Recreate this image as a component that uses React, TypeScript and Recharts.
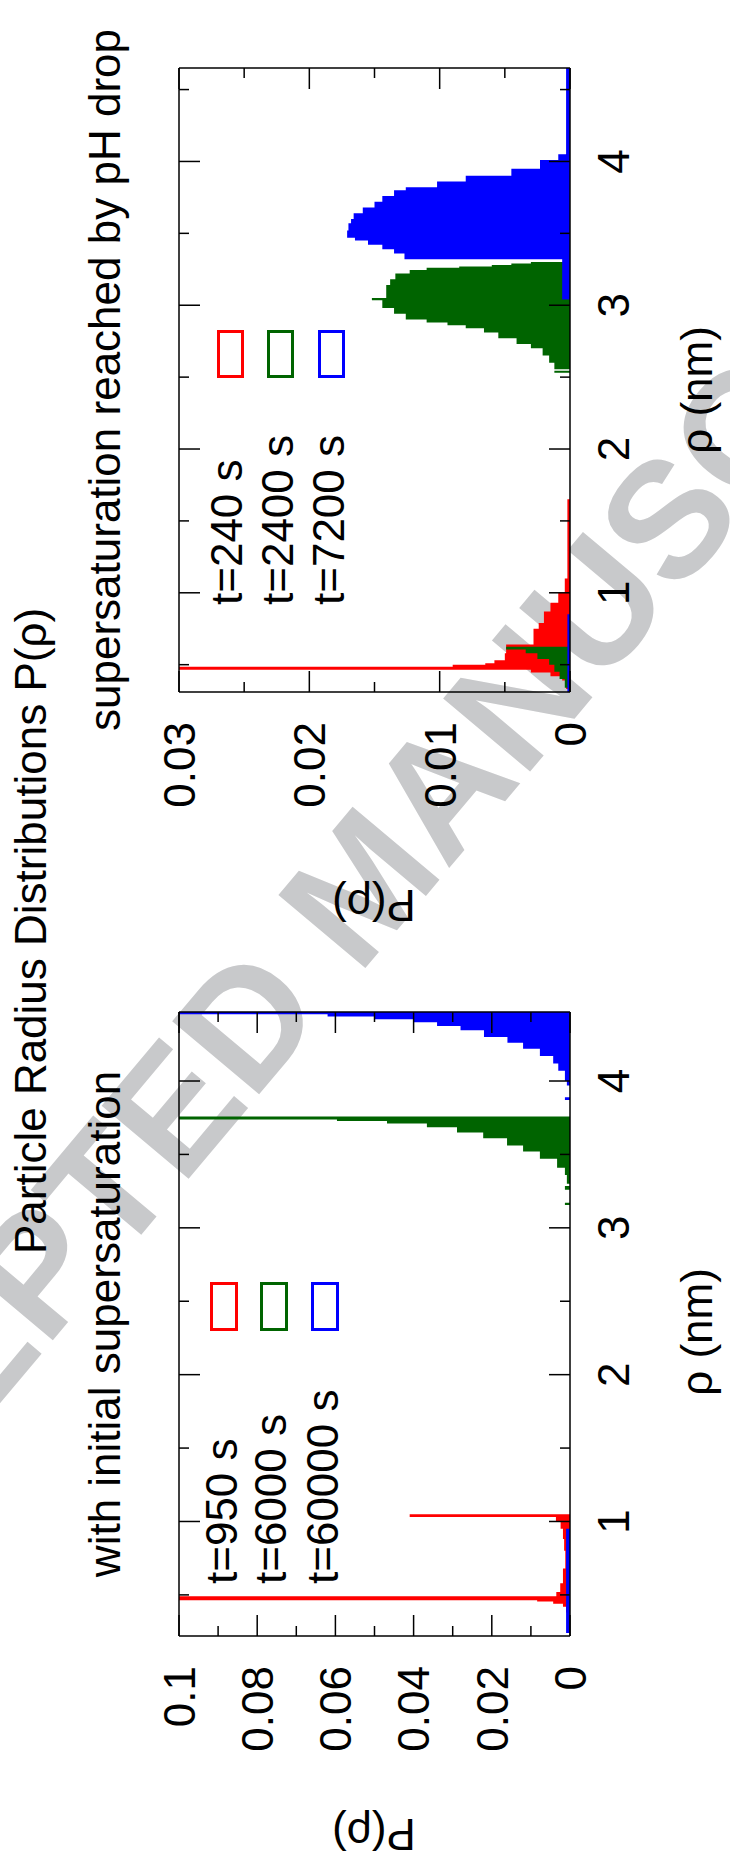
import React from 'react';
import { ComposedChart, Area, XAxis, YAxis, Legend } from 'recharts';

const FONT = '"Liberation Sans", Arial, Helvetica, sans-serif';
const FS = 44;

const colors = ['#ff0000', '#006400', '#0000ff'];

// left panel: with initial supersaturation
const initTimes = ['t=950 s', 't=6000 s', 't=60000 s'];
const initRedRho = [0.26, 0.32, 0.38, 0.42, 0.44, 0.455, 0.463, 0.49, 0.52, 0.58, 0.68, 0.8, 0.88, 0.95, 1.0, 1.03, 1.05];
const initRedP = [0.0003, 0.0006, 0.001, 0.0018, 0.0043, 0.0084, 0.11, 0.0035, 0.0025, 0.0018, 0.0012, 0.0015, 0.0018, 0.0024, 0.0036, 0.041, 0];
const initGreenRho = [0.5, 0.9, 3.155, 3.17, 3.26, 3.285, 3.3, 3.36, 3.41, 3.47, 3.52, 3.56, 3.61, 3.65, 3.685, 3.71, 3.728, 3.738, 3.758];
const initGreenP = [0.0006, 0, 0.0013, 0, 0.0013, 0, 0.0008, 0.0013, 0.0033, 0.0077, 0.012, 0.0161, 0.0222, 0.0289, 0.0366, 0.0468, 0.0596, 0.11, 0];
const initBlueRho = [0.24, 0.95, 3.87, 3.89, 3.97, 4.0, 4.07, 4.12, 4.17, 4.22, 4.26, 4.3, 4.345, 4.375, 4.4, 4.42, 4.44, 4.455, 4.48];
const initBlueP = [0.001, 0, 0.0013, 0, 0.0008, 0.0013, 0.003, 0.0043, 0.0077, 0.012, 0.016, 0.022, 0.028, 0.034, 0.04, 0.05, 0.062, 0.11, 0];

// right panel: supersaturation reached by pH drop
const phTimes = ['t=240 s', 't=2400 s', 't=7200 s'];
const phRedRho = [0.33, 0.39, 0.42, 0.445, 0.465, 0.485, 0.5, 0.51, 0.53, 0.58, 0.64, 0.75, 0.79, 0.87, 0.93, 1.0, 1.1, 1.65];
const phRedP = [0.0003, 0.0006, 0.0015, 0.003, 0.033, 0.009, 0.0065, 0.0058, 0.005, 0.0049, 0.0028, 0.0024, 0.002, 0.0015, 0.0009, 0.0004, 0.0002, 0];
const phGreenRho = [0.34, 0.4, 0.45, 0.5, 0.54, 0.58, 0.605, 0.625, 2.53, 2.545, 2.555, 2.57, 2.6, 2.65, 2.7, 2.73, 2.77, 2.81, 2.84, 2.86, 2.88, 2.9, 2.94, 2.98, 3.035, 3.05, 3.1, 3.14, 3.18, 3.22, 3.245, 3.26, 3.27, 3.28, 3.29, 3.3];
const phGreenP = [0.0004, 0.0008, 0.0012, 0.0016, 0.0025, 0.0034, 0.0049, 0, 0.0012, 0, 0.0012, 0.0012, 0.0016, 0.0021, 0.003, 0.0041, 0.0055, 0.0066, 0.008, 0.0094, 0.011, 0.0126, 0.0135, 0.0144, 0.0152, 0.0141, 0.0141, 0.0138, 0.0134, 0.0123, 0.011, 0.0085, 0.006, 0.0045, 0.003, 0];
const phBlueRho = [0.31, 0.85, 3.04, 3.32, 3.36, 3.39, 3.42, 3.45, 3.47, 3.52, 3.57, 3.6, 3.64, 3.68, 3.72, 3.76, 3.8, 3.82, 3.86, 3.9, 3.95, 4.01, 4.05, 4.66];
const phBlueP = [0.0002, 0, 0.0006, 0.0127, 0.0135, 0.0144, 0.0155, 0.0165, 0.0171, 0.017, 0.0168, 0.0166, 0.0159, 0.015, 0.0144, 0.0135, 0.0126, 0.0102, 0.008, 0.0045, 0.0023, 0.0009, 0.0003, 0.0003];

// axes
const rhoMajor = [1, 2, 3, 4];
const rhoLabels = ['1', '2', '3', '4'];
const rhoTicksInit = [0.5, 1, 1.5, 2, 2.5, 3, 3.5, 4];
const rhoTicksPh = [0.5, 1, 1.5, 2, 2.5, 3, 3.5, 4, 4.5];
const pTicksInit = [0, 0.01, 0.02, 0.03, 0.04, 0.05, 0.06, 0.07, 0.08, 0.09, 0.1];
const pMajorInit = [0, 0.02, 0.04, 0.06, 0.08, 0.1];
const pLabelsInit = ['0', '0.02', '0.04', '0.06', '0.08', '0.1'];
const pTicksPh = [0, 0.005, 0.01, 0.015, 0.02, 0.025, 0.03];
const pMajorPh = [0, 0.01, 0.02, 0.03];
const pLabelsPh = ['0', '0.01', '0.02', '0.03'];

const zip = (rho: number[], p: number[]) => rho.map((r, i) => ({ rho: r, p: p[i] }));

const frameTick = (side: string, majors: number[], labels?: string[]) => (props: any) => {
  const { x, y, payload } = props;
  const i = majors.findIndex(m => Math.abs(m - payload.value) < 1e-9);
  const len = i >= 0 ? 21 : 10;
  let x2 = x;
  let y2 = y;
  if (side === 'bottom') y2 = y - len;
  if (side === 'top') y2 = y + len;
  if (side === 'left') x2 = x + len;
  if (side === 'right') x2 = x - len;
  return (
    <g>
      <line x1={x} y1={y} x2={x2} y2={y2} stroke="#000" strokeWidth={1.5} />
      {labels && i >= 0 && side === 'bottom' && (
        <text x={x} y={y + 28} dy="0.71em" textAnchor="middle" fontSize={FS} fontFamily={FONT} fill="#000">{labels[i]}</text>
      )}
      {labels && i >= 0 && side === 'left' && (
        <text x={x - 30} y={y} dy="0.36em" textAnchor="end" fontSize={FS} fontFamily={FONT} fill="#000">{labels[i]}</text>
      )}
    </g>
  );
};

const axisLine = { stroke: '#000', strokeWidth: 1.5 };

type LegendPos = { textX: number; boxX: number; boxW: number; base: number[]; boxTop: number[]; boxH: number };

const legendContent = (names: string[], pos: LegendPos) => () => (
  <svg width={931} height={730} style={{ overflow: 'visible' }}>
    {names.map((n, i) => (
      <g key={n}>
        <text x={pos.textX} y={pos.base[i]} fontSize={FS} fontFamily={FONT} fill="#000">{n}</text>
        <rect x={pos.boxX + 1.5} y={pos.boxTop[i] + 1.5} width={pos.boxW - 3} height={pos.boxH - 3} fill="none" stroke={colors[i]} strokeWidth={3} />
      </g>
    ))}
  </svg>
);

type PanelProps = {
  series: { rho: number; p: number }[][];
  names: string[];
  rhoDomain: number[];
  pDomain: number[];
  rhoTicks: number[];
  pTicks: number[];
  pMajor: number[];
  pLabels: string[];
  margin: { top: number; right: number; bottom: number; left: number };
  legend: LegendPos;
};

// every axis is 1px thick, so margins are the plot box minus 1
const Panel = ({ series, names, rhoDomain, pDomain, rhoTicks, pTicks, pMajor, pLabels, margin, legend }: PanelProps) => (
  <ComposedChart width={931} height={730} margin={margin}>
    <XAxis xAxisId="b" dataKey="rho" type="number" domain={rhoDomain} allowDataOverflow ticks={rhoTicks} interval={0}
      height={1} tickSize={0} tickMargin={0} tickLine={false} axisLine={axisLine} tick={frameTick('bottom', rhoMajor, rhoLabels)} />
    <XAxis xAxisId="t" orientation="top" dataKey="rho" type="number" domain={rhoDomain} allowDataOverflow ticks={rhoTicks} interval={0}
      height={1} tickSize={0} tickMargin={0} tickLine={false} axisLine={axisLine} tick={frameTick('top', rhoMajor)} />
    <YAxis yAxisId="l" type="number" domain={pDomain} allowDataOverflow ticks={pTicks} interval={0}
      width={1} tickSize={0} tickMargin={0} tickLine={false} axisLine={axisLine} tick={frameTick('left', pMajor, pLabels)} />
    <YAxis yAxisId="r" orientation="right" type="number" domain={pDomain} allowDataOverflow ticks={pTicks} interval={0}
      width={1} tickSize={0} tickMargin={0} tickLine={false} axisLine={axisLine} tick={frameTick('right', pMajor)} />
    {series.map((d, i) => (
      <Area key={names[i]} name={names[i]} xAxisId="b" yAxisId="l" data={d} dataKey="p" type="stepAfter"
        stroke="none" fill={colors[i]} fillOpacity={1} isAnimationActive={false} dot={false} activeDot={false} />
    ))}
    <Legend layout="vertical" align="center" verticalAlign="middle" content={legendContent(names, legend)}
      wrapperStyle={{ left: 0, top: 0, width: 931, height: 730, pointerEvents: 'none' }} />
  </ComposedChart>
);

export default function App() {
  const txt = { fontSize: FS, fontFamily: FONT, fill: '#000' };
  return (
    <div style={{ position: 'absolute', left: 0, top: 0, width: 730, height: 1862, overflow: 'hidden', background: '#fff' }}>
      {/* journal watermark, sits behind the figure */}
      <div style={{
        position: 'absolute', left: 362, top: 884, transform: 'translate(-50%, -50%) rotate(-50deg)',
        whiteSpace: 'nowrap', fontFamily: FONT, fontWeight: 'bold', fontSize: 165, lineHeight: 1, color: '#c8c9cb',
      }}>ACCEPTED MANUSCRIPT</div>
      <div style={{ position: 'absolute', left: 0, top: 0, width: 1862, height: 730, transformOrigin: '0 0', transform: 'translate(0px, 1862px) rotate(-90deg)' }}>
        <svg width={1862} height={730} style={{ position: 'absolute', left: 0, top: 0 }}>
          <text x={931} y={46} textAnchor="middle" {...txt}>Particle Radius Distributions P(ρ)</text>
          <text x={538} y={120} textAnchor="middle" {...txt}>with initial supersaturation</text>
          <text x={1482} y={120} textAnchor="middle" {...txt}>supersaturation reached by pH drop</text>
          <text x={530} y={712} textAnchor="middle" {...txt}>ρ (nm)</text>
          <text x={1472} y={712} textAnchor="middle" {...txt}>ρ (nm)</text>
          <text transform="translate(28 374) rotate(-90)" textAnchor="middle" dy="0.35em" {...txt}>P(ρ)</text>
          <text transform="translate(957 374) rotate(-90)" textAnchor="middle" dy="0.35em" {...txt}>P(ρ)</text>
        </svg>
        <div style={{ position: 'absolute', left: 0, top: 0 }}>
          <Panel
            series={[zip(initRedRho, initRedP), zip(initGreenRho, initGreenP), zip(initBlueRho, initBlueP)]}
            names={initTimes}
            rhoDomain={[0.22, 4.47]}
            pDomain={[0, 0.1]}
            rhoTicks={rhoTicksInit}
            pTicks={pTicksInit}
            pMajor={pMajorInit}
            pLabels={pLabelsInit}
            margin={{ top: 178, right: 80, bottom: 159, left: 225 }}
            legend={{ textX: 278, boxX: 531, boxW: 49, base: [237, 286, 338], boxTop: [210, 260, 311], boxH: 28 }}
          />
        </div>
        <div style={{ position: 'absolute', left: 931, top: 0 }}>
          <Panel
            series={[zip(phRedRho, phRedP), zip(phGreenRho, phGreenP), zip(phBlueRho, phBlueP)]}
            names={phTimes}
            rhoDomain={[0.31, 4.65]}
            pDomain={[0, 0.03]}
            rhoTicks={rhoTicksPh}
            pTicks={pTicksPh}
            pMajor={pMajorPh}
            pLabels={pLabelsPh}
            margin={{ top: 178, right: 67, bottom: 159, left: 238 }}
            legend={{ textX: 326, boxX: 553, boxW: 48, base: [242, 293, 344], boxTop: [217, 267, 318], boxH: 27 }}
          />
        </div>
      </div>
    </div>
  );
}
